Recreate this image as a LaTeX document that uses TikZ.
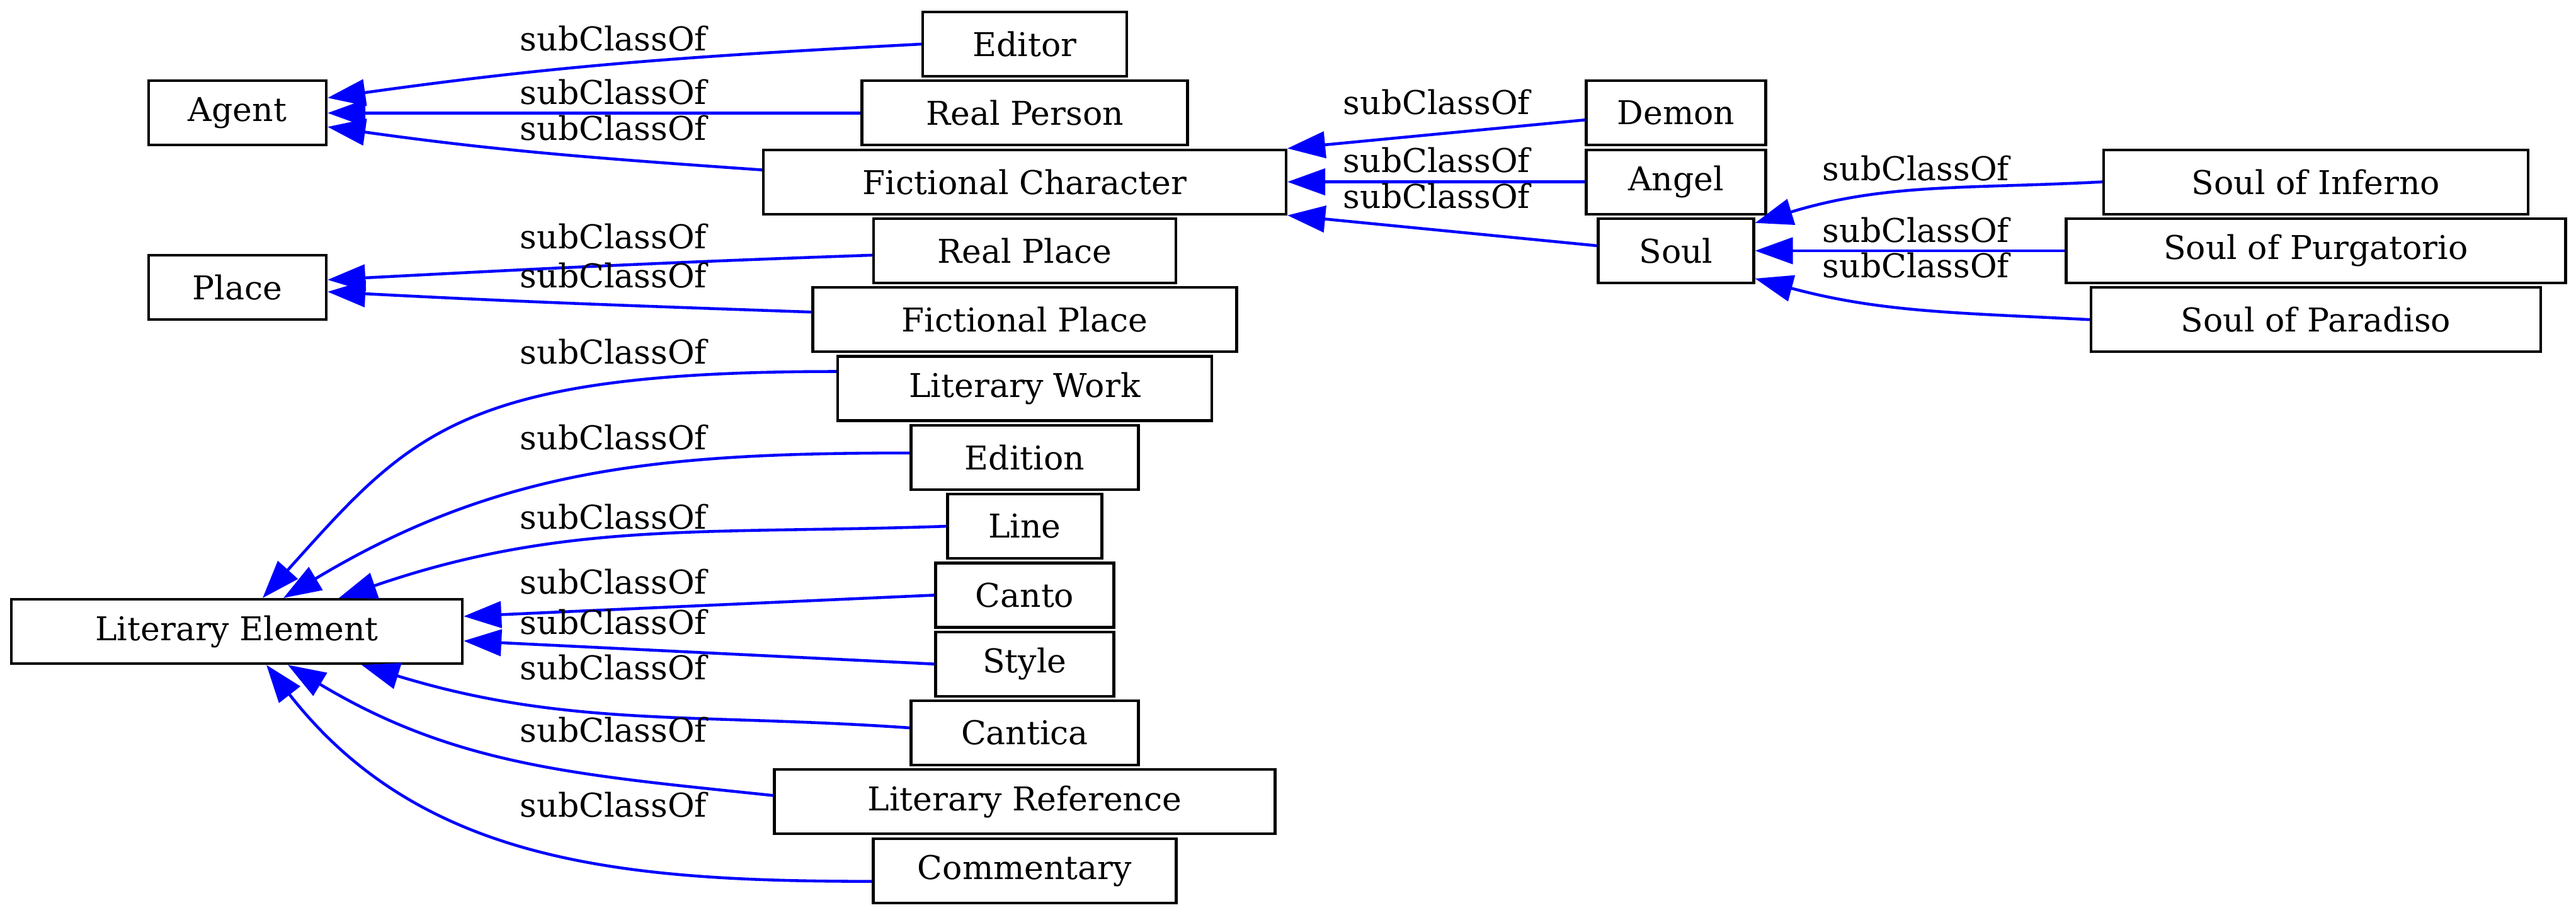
\documentclass[tikz,border=0pt]{standalone}
\usepackage{fontspec}
\setmainfont{DejaVu Serif}
\usetikzlibrary{arrows.meta}

\begin{document}
\begin{tikzpicture}[
		cls/.style={draw, line width=1.2pt, minimum height=1.02cm, inner sep=0pt, font=\fontsize{14.8}{18}\selectfont},
		lbl/.style={anchor=base, inner sep=0pt, font=\fontsize{14.8}{18}\selectfont},
		sub/.style={draw=blue, line width=1.3pt, -{Triangle[length=0.6cm, width=0.42cm]}}
		]
		\useasboundingbox (0,0) rectangle (40.9,-14.51);
		
		% ===== middle column =====
		\foreach \nn/\tx/\ww [count=\i from 0] in {editor/Editor/3.24, realperson/Real Person/5.17, fictchar/Fictional Character/8.30, realplace/Real Place/4.80, fictplace/Fictional Place/6.73, litwork/Literary Work/5.94, edition/Edition/3.61, line/Line/2.45, canto/Canto/2.83, style/Style/2.83, cantica/Cantica/3.61, litref/Literary Reference/7.95, commentary/Commentary/4.81}{
			\node[cls, minimum width=\ww cm] (\nn) at (16.27,{-0.70-1.093*\i}) {\tx};
		}
		
		% ===== top classes =====
		\node[cls, minimum width=2.82cm] (agent) at (3.77,-1.793) {Agent};
		\node[cls, minimum width=2.82cm] (place) at (3.77,-4.56) {Place};
		\node[cls, minimum width=7.16cm] (litelem) at (3.76,-10.02) {Literary Element};
		
		% ===== right columns =====
		\node[cls, minimum width=2.85cm] (demon) at (26.61,-1.793) {Demon};
		\node[cls, minimum width=2.85cm] (angel) at (26.61,-2.886) {Angel};
		\node[cls, minimum width=2.47cm] (soul) at (26.61,-3.979) {Soul};
		\node[cls, minimum width=6.74cm] (inferno) at (36.77,-2.886) {Soul of Inferno};
		\node[cls, minimum width=7.93cm] (purgatorio) at (36.77,-3.979) {Soul of Purgatorio};
		\node[cls, minimum width=7.14cm] (paradiso) at (36.77,-5.072) {Soul of Paradiso};
		
		% ===== subClassOf edges =====
		\draw[sub] (editor.west) to[out=183,in=8] ([yshift=2.4mm]agent.east);
		\draw[sub] (realperson.west) -- (agent.east);
		\draw[sub] ([yshift=1.9mm]fictchar.west) to[out=176,in=352] ([yshift=-2.2mm]agent.east);
		
		\draw[sub] ([yshift=-0.7mm]realplace.west) to[out=182,in=3] ([yshift=1.2mm]place.east);
		\draw[sub] ([yshift=1.2mm]fictplace.west) to[out=178,in=357] ([yshift=-0.7mm]place.east);
		
		\draw[sub] ([yshift=2.7mm]litwork.west) .. controls +(180:6) and +(48:3.5) .. ([xshift=4.1mm]litelem.north);
		\draw[sub] ([yshift=0.7mm]edition.west) to[out=180,in=31] ([xshift=7.4mm]litelem.north);
		\draw[sub] (line.west) to[out=182,in=19] ([xshift=16.2mm]litelem.north);
		\draw[sub] (canto.west) -- ([yshift=2.4mm]litelem.east);
		\draw[sub] (style.west) -- ([yshift=-1.5mm]litelem.east);
		\draw[sub] ([yshift=0.8mm]cantica.west) to[out=176,in=343] ([xshift=19.8mm]litelem.south);
		\draw[sub] ([yshift=1mm]litref.west) to[out=174,in=329] ([xshift=8.1mm]litelem.south);
		\draw[sub] ([yshift=-1.7mm]commentary.west) to[out=180,in=308] ([xshift=4.7mm]litelem.south);
		
		\draw[sub] ([yshift=-1.1mm]demon.west) -- (fictchar.north east);
		\draw[sub] (angel.west) -- (fictchar.east);
		\draw[sub] ([yshift=0.8mm]soul.west) -- (fictchar.south east);
		
		\draw[sub] (inferno.west) to[out=183,in=17] ([yshift=-0.9mm]soul.north east);
		\draw[sub] (purgatorio.west) -- (soul.east);
		\draw[sub] (paradiso.west) to[out=177,in=345] ([yshift=0.9mm]soul.south east);
		
		% ===== edge labels =====
		\foreach \x/\y [count=\i] in {9.74/-0.80, 9.74/-1.65, 9.74/-2.22, 9.74/-3.94, 9.74/-4.56, 9.74/-5.77, 9.74/-7.13, 9.74/-8.39, 9.74/-9.42, 9.74/-10.06, 9.74/-10.78, 9.74/-11.77, 9.74/-12.96, 22.81/-1.81, 22.81/-2.73, 22.81/-3.30, 30.42/-2.86, 30.42/-3.84, 30.42/-4.40}{
			\node[lbl] (lab\i) at (\x,\y) {subClassOf};
		}
		
	\end{tikzpicture}
\end{document}
